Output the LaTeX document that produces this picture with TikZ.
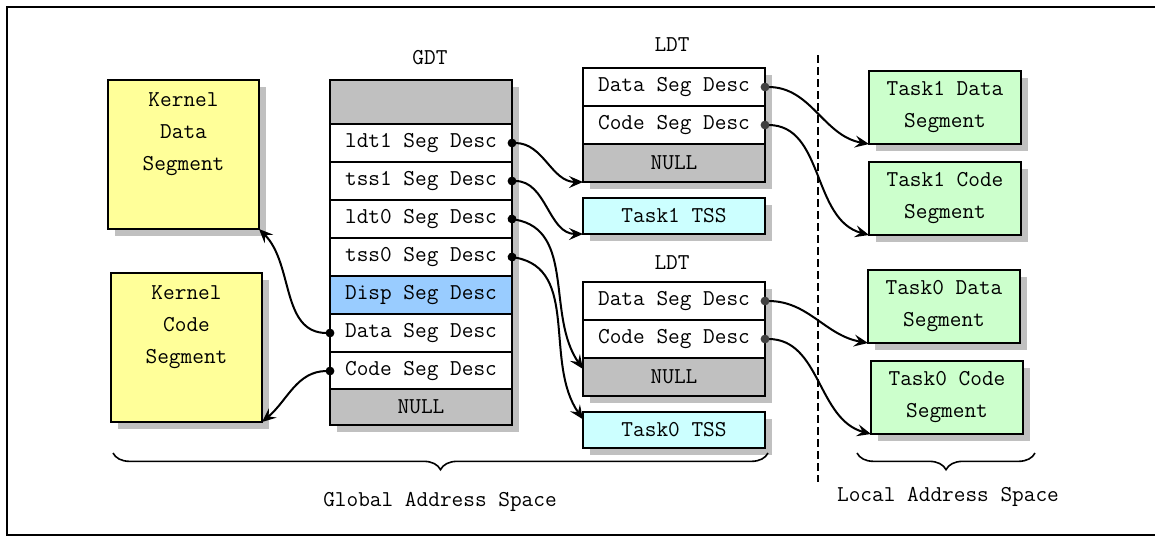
\documentclass[tikz,border=0pt]{standalone}
\usetikzlibrary{arrows.meta,shadows,decorations.pathreplacing}
\definecolor{kyellow}{HTML}{FFFF99}
\definecolor{tgreen}{HTML}{CCFFCC}
\definecolor{tcyan}{HTML}{CCFFFF}
\definecolor{dispblue}{HTML}{99CCFF}
\definecolor{nullgray}{HTML}{C0C0C0}
\definecolor{shadowgray}{HTML}{C0C0C0}
\definecolor{darkdot}{HTML}{404040}
\begin{document}
\begin{tikzpicture}[x=0.75pt,y=-0.75pt,
    font=\ttfamily\fontsize{17}{24}\selectfont,
    boxshadow/.style={drop shadow={shadow xshift=5pt,shadow yshift=-5pt,fill=shadowgray,opacity=1}},
    box/.style={draw,line width=1.5pt,outer sep=0pt,inner sep=0pt,anchor=north west,boxshadow},
    kernelbox/.style={box,fill=kyellow,minimum width=113.25pt,minimum height=111.75pt},
    taskbox/.style={box,fill=tgreen,align=center,minimum width=114pt,minimum height=54.75pt},
    tssbox/.style={box,fill=tcyan,minimum width=136.5pt,minimum height=27pt},
    row/.style={box,fill=white,minimum width=136.5pt,minimum height=28.5pt},
    conn/.style={line width=1.5pt,{Circle[length=6.5pt]}-{Stealth[length=10.5pt,width=9pt,inset=4pt]},shorten <=-3.25pt},
    darkconn/.style={line width=1.5pt,{Circle[length=6.5pt,color=darkdot]}-{Stealth[length=10.5pt,width=9pt,inset=4pt]},shorten <=-3.25pt},
    spacebrace/.style={decorate,decoration={brace,mirror,amplitude=12.5pt},line width=1.2pt}
]
    \useasboundingbox (0,0) rectangle (1155,537);

    % Frame
    \draw[line width=2pt] (1170,7) -- (7,7) -- (7,535) -- (1170,535);

    % Kernel segments
    \node[kernelbox,label={[anchor=north,align=center,inner sep=0pt,yshift=-9pt]north:{Kernel\\Data\\Segment}}] (kdata) at (108,80) {};
    \node[kernelbox,label={[anchor=north,align=center,inner sep=0pt,yshift=-9pt]north:{Kernel\\Code\\Segment}}] (kcode) at (111,273) {};

    % GDT
    \node (gdttitle) at (430,58) {GDT};
    \node[row,fill=nullgray,minimum height=33pt] (gtop) at (330,80) {};
    \node[row] (gldt1) at (330,124) {ldt1 Seg Desc};
    \node[row] (gtss1) at (330,162) {tss1 Seg Desc};
    \node[row] (gldt0) at (330,200) {ldt0 Seg Desc};
    \node[row] (gtss0) at (330,238) {tss0 Seg Desc};
    \node[row,fill=dispblue] (gdisp) at (330,276) {Disp Seg Desc};
    \node[row] (gdata) at (330,314) {Data Seg Desc};
    \node[row] (gcode) at (330,352) {Code Seg Desc};
    \node[row,fill=nullgray,minimum height=27pt] (gnull) at (330,389) {NULL};

    % LDT of task 1
    \node (ldt1title) at (672,45) {LDT};
    \node[row] (l1data) at (583,68) {Data Seg Desc};
    \node[row] (l1code) at (583,106) {Code Seg Desc};
    \node[row,fill=nullgray] (l1null) at (583,144) {NULL};
    \node[tssbox] (tss1) at (583,198) {Task1 TSS};

    % LDT of task 0
    \node (ldt0title) at (672,263) {LDT};
    \node[row] (l0data) at (583,282) {Data Seg Desc};
    \node[row] (l0code) at (583,320) {Code Seg Desc};
    \node[row,fill=nullgray] (l0null) at (583,358) {NULL};
    \node[tssbox] (tss0) at (583,412) {Task0 TSS};

    % Local segments
    \node[taskbox] (t1data) at (869,71) {Task1 Data\\Segment};
    \node[taskbox] (t1code) at (869,162) {Task1 Code\\Segment};
    \node[taskbox] (t0data) at (868,270) {Task0 Data\\Segment};
    \node[taskbox] (t0code) at (871,361) {Task0 Code\\Segment};

    % Separator
    \coordinate (septop) at (818,55);
    \coordinate (sepbot) at (818,482);
    \draw[line width=1pt,dash pattern=on 6pt off 3pt] (septop) -- (sepbot);

    % Links from GDT
    \draw[conn] (gdata.west) to[out=180,in=-45] (kdata.south east);
    \draw[conn] (gcode.west) to[out=180,in=40] (kcode.south east);
    \draw[conn] (gldt1.east) to[out=0,in=180] (l1null.south west);
    \draw[conn] (gtss1.east) to[out=0,in=180] (tss1.south west);
    \draw[conn] (gldt0.east) to[out=-10,in=125] ([yshift=6pt]l0null.west);
    \draw[conn] (gtss0.east) to[out=-10,in=125] ([yshift=8pt]tss0.west);

    % Links from LDTs
    \draw[darkconn] (l1data.east) to[out=0,in=170] (t1data.south west);
    \draw[darkconn] (l1code.east) to[out=0,in=165] (t1code.south west);
    \draw[darkconn] (l0data.east) to[out=0,in=170] (t0data.south west);
    \draw[darkconn] (l0code.east) to[out=0,in=165] (t0code.south west);

    % Address spaces
    \coordinate (gleft) at (113,453);
    \coordinate (gright) at (768,453);
    \coordinate (lleft) at (857,453);
    \coordinate (lright) at (1035,453);
    \draw[spacebrace] (gleft) -- (gright);
    \draw[spacebrace] (lleft) -- (lright);
    \node (globallabel) at (440,502) {Global Address Space};
    \node (locallabel) at (948,497) {Local Address Space};
\end{tikzpicture}
\end{document}
